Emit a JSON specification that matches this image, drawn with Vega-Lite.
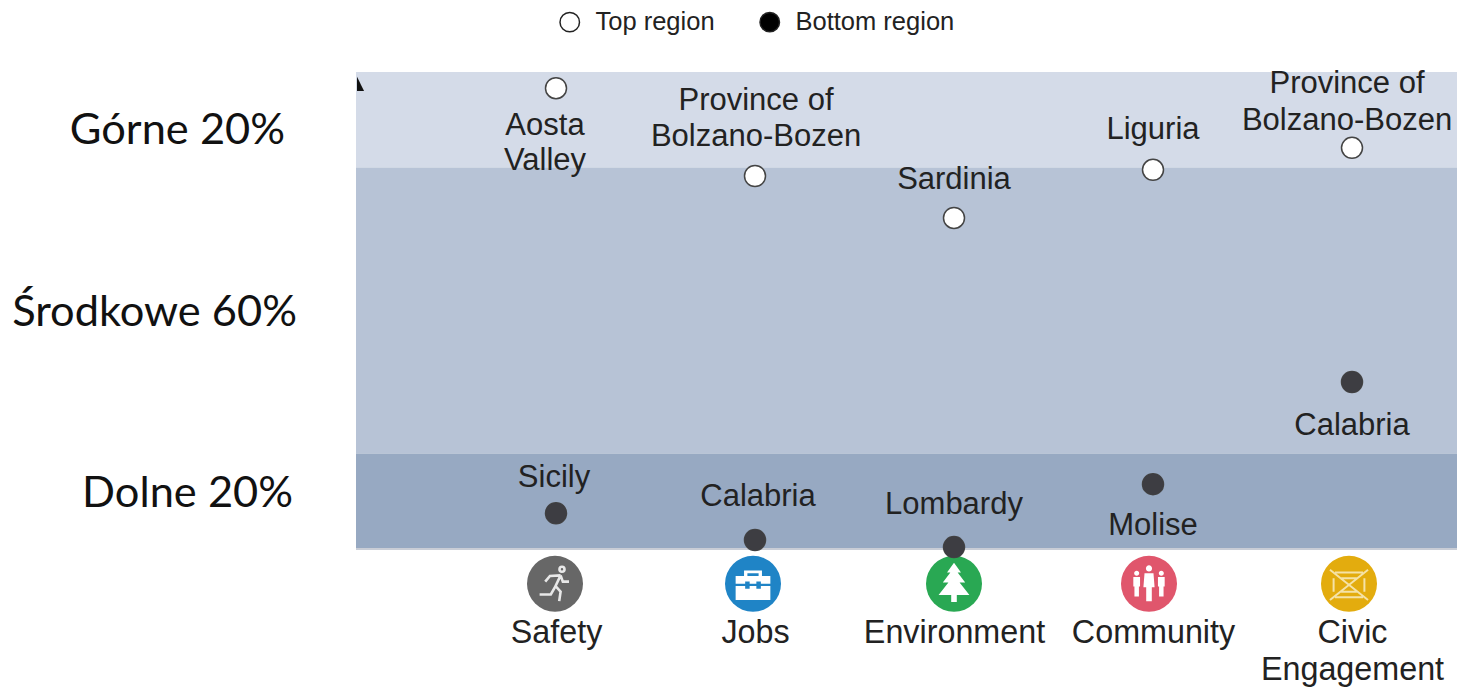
{
"$schema":"https://vega.github.io/schema/vega-lite/v6.json",
"width":1101,"height":477,"autosize":"none",
"padding":{"left":356,"top":72,"right":0,"bottom":139},
"background":"white",
"config":{"view":{"stroke":null},"text":{"font":"Liberation Sans"}},
"datasets":{
"bands":[{"band":"Górne 20%","low":80,"high":100},{"band":"Środkowe 60%","low":20,"high":80},{"band":"Dolne 20%","low":0,"high":20}],
"icons":[{"dimension":"Safety"},{"dimension":"Jobs"},{"dimension":"Environment"},{"dimension":"Community"},{"dimension":"Civic Engagement"}],
"bandLabels":[{"dimension":"","band":"Górne 20%","level":88},{"dimension":"","band":"Środkowe 60%","level":50},{"dimension":"","band":"Dolne 20%","level":12}],
"points":[
{"dimension":"Safety","group":"Top region","region":"Aosta\nValley","score":96.6},
{"dimension":"Jobs","group":"Top region","region":"Province of\nBolzano-Bozen","score":78.2},
{"dimension":"Environment","group":"Top region","region":"Sardinia","score":69.4},
{"dimension":"Community","group":"Top region","region":"Liguria","score":79.5},
{"dimension":"Civic Engagement","group":"Top region","region":"Province of\nBolzano-Bozen","score":84.1},
{"dimension":"Safety","group":"Bottom region","region":"Sicily","score":7.5},
{"dimension":"Jobs","group":"Bottom region","region":"Calabria","score":1.9},
{"dimension":"Environment","group":"Bottom region","region":"Lombardy","score":0.4},
{"dimension":"Community","group":"Bottom region","region":"Molise","score":13.6},
{"dimension":"Civic Engagement","group":"Bottom region","region":"Calabria","score":35}
]},
"layer":[
{"data":{"name":"bands"},"mark":{"type":"rect"},
"encoding":{"y":{"field":"low","type":"quantitative","title":null,"scale":{"domain":[0,100],"nice":false,"zero":false},
"axis":{"labels":false,"ticks":false,"grid":false,"domainColor":"#333","domainWidth":2,"zindex":1}},"y2":{"field":"high"},
"fill":{"field":"band","type":"nominal","legend":null,"scale":{"domain":["Górne 20%","Środkowe 60%","Dolne 20%"],"range":["#d4dbe8","#b7c3d6","#97a9c2"]}}}},
{"data":{"name":"bands"},"transform":[{"filter":"datum.low==0"}],"mark":{"type":"rule","color":"#c9cdd6","strokeWidth":2},"encoding":{"y":{"field":"low","type":"quantitative","axis":null,"scale":{"domain":[0,100],"nice":false,"zero":false}}}},
{"encoding":{"x":{"field":"dimension","type":"nominal","sort":null,"title":null,
"scale":{"type":"point","padding":0,"domain":["","Safety","Jobs","Environment","Community","Civic Engagement"],"range":[1,996]},
"axis":{"values":["Safety","Jobs","Environment","Community","Civic Engagement"],"labelExpr":"datum.label=='Civic Engagement'?['Civic','Engagement']:datum.label","labelAngle":0,"labelFont":"Liberation Sans","labelFontSize":32.3,"labelColor":"#222","labelPadding":67,"labelBaseline":"top","labelLineHeight":37,"labelLimit":400,"ticks":false,"domain":false,"labelOverlap":false}}},
"layer":[
{"data":{"values":[{"dimension":"","score":97.5}]},"mark":{"type":"point","shape":"M0,-1 L1,1 L0,1 Z","filled":true,"fill":"#111","stroke":null,"size":200,"opacity":1},"encoding":{"y":{"field":"score","type":"quantitative","axis":null,"scale":{"domain":[0,100],"nice":false,"zero":false}}}},
{"data":{"name":"bandLabels"},"transform":[{"filter":"datum.level==88"}],"mark":{"type":"text","font":"Lato","fontSize":43.4,"color":"#111","align":"right","dx":-72,"dy":2},"encoding":{"y":{"field":"level","type":"quantitative","axis":null,"scale":{"domain":[0,100],"nice":false,"zero":false}},"text":{"field":"band"}}},
{"data":{"name":"bandLabels"},"transform":[{"filter":"datum.level==50"}],"mark":{"type":"text","font":"Lato","fontSize":43.4,"color":"#111","align":"right","dx":-60,"dy":2},"encoding":{"y":{"field":"level","type":"quantitative","axis":null,"scale":{"domain":[0,100],"nice":false,"zero":false}},"text":{"field":"band"}}},
{"data":{"name":"bandLabels"},"transform":[{"filter":"datum.level==12"}],"mark":{"type":"text","font":"Lato","fontSize":43.4,"color":"#111","align":"right","dx":-64,"dy":2},"encoding":{"y":{"field":"level","type":"quantitative","axis":null,"scale":{"domain":[0,100],"nice":false,"zero":false}},"text":{"field":"band"}}},
{"data":{"name":"icons"},"mark":{"type":"point","filled":true,"shape":"circle","size":3136,"opacity":1,"xOffset":{"expr":"datum.dimension=='Safety'?-1:datum.dimension=='Jobs'?-2:datum.dimension=='Community'?-4:datum.dimension=='Civic Engagement'?-3:0"}},
"encoding":{"y":{"datum":-7.3,"type":"quantitative","axis":null,"scale":{"domain":[0,100],"nice":false,"zero":false}},"fill":{"field":"dimension","type":"nominal","legend":null,"scale":{"domain":["Safety","Jobs","Environment","Community","Civic Engagement"],"range":["#676767","#1f84c6","#29a853","#e0566c","#e3ac0e"]}}}},
{"data":{"name":"icons"},"transform":[{"filter":"datum.dimension=='Safety'"}],
"mark":{"type":"point","filled":false,"stroke":"#e8e8e8","strokeWidth":2.6,"size":3136,"opacity":1,"xOffset":-1,"shape":"M0.2,-0.3 L0.02,0.08 L0.2,0.28 L0.15,0.62 M0.02,0.08 L-0.15,0.38 L-0.55,0.38 M0.2,-0.3 L-0.18,-0.28 L-0.35,-0.08 M0.2,-0.3 L0.28,-0.08 L0.5,-0.08 M0.16,-0.52 a0.09,0.09 0 1,0 0.18,0 a0.09,0.09 0 1,0 -0.18,0 Z"},
"encoding":{"y":{"datum":-7.3,"type":"quantitative","axis":null,"scale":{"domain":[0,100],"nice":false,"zero":false}}}},
{"data":{"name":"icons"},"transform":[{"filter":"datum.dimension=='Jobs'"}],
"mark":{"type":"point","filled":true,"fill":"white","stroke":null,"size":3136,"opacity":1,"xOffset":-2,"shape":"M-0.62,-0.28 H0.62 V0 H0.28 V-0.08 H0.12 V0 H-0.12 V-0.08 H-0.28 V0 H-0.62 Z M-0.62,0.08 H-0.28 V0.18 H-0.12 V0.08 H0.12 V0.18 H0.28 V0.08 H0.62 V0.58 H-0.62 Z M-0.32,-0.28 V-0.48 H0.32 V-0.28 H0.2 V-0.38 H-0.2 V-0.28 Z"},
"encoding":{"y":{"datum":-7.3,"type":"quantitative","axis":null,"scale":{"domain":[0,100],"nice":false,"zero":false}}}},
{"data":{"name":"icons"},"transform":[{"filter":"datum.dimension=='Environment'"}],
"mark":{"type":"point","filled":true,"fill":"white","stroke":null,"size":3136,"opacity":1,"shape":"M0,-0.75 L0.25,-0.4 L0.13,-0.4 L0.4,-0.05 L0.2,-0.05 L0.55,0.4 L0.1,0.4 L0.1,0.65 L-0.1,0.65 L-0.1,0.4 L-0.55,0.4 L-0.2,-0.05 L-0.4,-0.05 L-0.13,-0.4 L-0.25,-0.4 Z"},
"encoding":{"y":{"datum":-7.3,"type":"quantitative","axis":null,"scale":{"domain":[0,100],"nice":false,"zero":false}}}},
{"data":{"name":"icons"},"transform":[{"filter":"datum.dimension=='Community'"}],
"mark":{"type":"point","filled":true,"fill":"white","stroke":null,"size":3136,"opacity":1,"xOffset":-4,"shape":"M-0.11,-0.55 a0.11,0.11 0 1,0 0.22,0 a0.11,0.11 0 1,0 -0.22,0 Z M-0.16,-0.38 H0.16 L0.2,0.12 H0.1 V0.62 H-0.1 V0.12 H-0.2 Z M-0.53,-0.38 a0.09,0.09 0 1,0 0.18,0 a0.09,0.09 0 1,0 -0.18,0 Z M-0.56,-0.24 H-0.32 V0.1 H-0.36 V0.45 H-0.52 V0.1 H-0.56 Z M0.35,-0.38 a0.09,0.09 0 1,0 0.18,0 a0.09,0.09 0 1,0 -0.18,0 Z M0.32,-0.24 H0.56 V0.1 H0.52 V0.45 H0.36 V0.1 H0.32 Z"},
"encoding":{"y":{"datum":-7.3,"type":"quantitative","axis":null,"scale":{"domain":[0,100],"nice":false,"zero":false}}}},
{"data":{"name":"icons"},"transform":[{"filter":"datum.dimension=='Civic Engagement'"}],
"mark":{"type":"point","filled":false,"stroke":"#f5e2a6","strokeWidth":2,"size":3136,"opacity":1,"xOffset":-3,"shape":"M-0.68,-0.5 L0.68,0.58 M0.68,-0.5 L-0.68,0.58 M-0.5,-0.4 H0.5 M-0.5,0.48 H0.5 M-0.55,-0.2 V0.28 M0.55,-0.2 V0.28 M-0.28,-0.2 H0.28 M-0.28,0.28 H0.28"},
"encoding":{"y":{"datum":-7.3,"type":"quantitative","axis":null,"scale":{"domain":[0,100],"nice":false,"zero":false}}}},
{"data":{"name":"points"},
"encoding":{"y":{"field":"score","type":"quantitative","axis":null,"scale":{"domain":[0,100],"nice":false,"zero":false}}},
"layer":[
{"mark":{"type":"point","filled":true,"size":441,"opacity":1,"strokeWidth":1.5,"stroke":"#444444"},
"encoding":{
"fill":{"field":"group","type":"nominal","scale":{"domain":["Top region","Bottom region"],"range":["#ffffff","#000000"]},
"legend":{"title":null,"orient":"none","legendX":201,"legendY":-63,"direction":"horizontal","labelFont":"Liberation Sans","labelFontSize":25.5,"labelColor":"#222","symbolSize":380,"symbolType":"circle","columnPadding":42,"labelOffset":13,"symbolStrokeWidth":1.5,"symbolStrokeColor":"#222"}}}},
{"transform":[{"filter":"datum.group=='Bottom region'"}],"mark":{"type":"point","filled":true,"size":441,"opacity":1,"color":"#3d3d42"}},
{"transform":[{"filter":"datum.dimension=='Safety'&&datum.group=='Top region'"}],"mark":{"type":"text","font":"Liberation Sans","fontSize":31,"color":"#222","lineBreak":"\n","lineHeight":35,"dy":38,"dx":-11},"encoding":{"text":{"field":"region"}}},
{"transform":[{"filter":"datum.dimension=='Jobs'&&datum.group=='Top region'"}],"mark":{"type":"text","font":"Liberation Sans","fontSize":31,"color":"#222","lineBreak":"\n","lineHeight":36,"dy":-75,"dx":1},"encoding":{"text":{"field":"region"}}},
{"transform":[{"filter":"datum.dimension=='Environment'&&datum.group=='Top region'"}],"mark":{"type":"text","font":"Liberation Sans","fontSize":31,"color":"#222","dy":-38},"encoding":{"text":{"field":"region"}}},
{"transform":[{"filter":"datum.dimension=='Community'&&datum.group=='Top region'"}],"mark":{"type":"text","font":"Liberation Sans","fontSize":31,"color":"#222","dy":-40},"encoding":{"text":{"field":"region"}}},
{"transform":[{"filter":"datum.dimension=='Civic Engagement'&&datum.group=='Top region'"}],"mark":{"type":"text","font":"Liberation Sans","fontSize":31,"color":"#222","lineBreak":"\n","lineHeight":37,"dy":-64,"dx":-5},"encoding":{"text":{"field":"region"}}},
{"transform":[{"filter":"datum.dimension=='Safety'&&datum.group=='Bottom region'"}],"mark":{"type":"text","font":"Liberation Sans","fontSize":31,"color":"#222","dy":-35,"dx":-2},"encoding":{"text":{"field":"region"}}},
{"transform":[{"filter":"datum.dimension=='Jobs'&&datum.group=='Bottom region'"}],"mark":{"type":"text","font":"Liberation Sans","fontSize":31,"color":"#222","dy":-43,"dx":3},"encoding":{"text":{"field":"region"}}},
{"transform":[{"filter":"datum.dimension=='Environment'&&datum.group=='Bottom region'"}],"mark":{"type":"text","font":"Liberation Sans","fontSize":31,"color":"#222","dy":-42},"encoding":{"text":{"field":"region"}}},
{"transform":[{"filter":"datum.dimension=='Community'&&datum.group=='Bottom region'"}],"mark":{"type":"text","font":"Liberation Sans","fontSize":31,"color":"#222","dy":42},"encoding":{"text":{"field":"region"}}},
{"transform":[{"filter":"datum.dimension=='Civic Engagement'&&datum.group=='Bottom region'"}],"mark":{"type":"text","font":"Liberation Sans","fontSize":31,"color":"#222","dy":44},"encoding":{"text":{"field":"region"}}}
]}
],
"resolve":{"scale":{"fill":"independent"}}}
],
"resolve":{"scale":{"fill":"independent"}}
}
